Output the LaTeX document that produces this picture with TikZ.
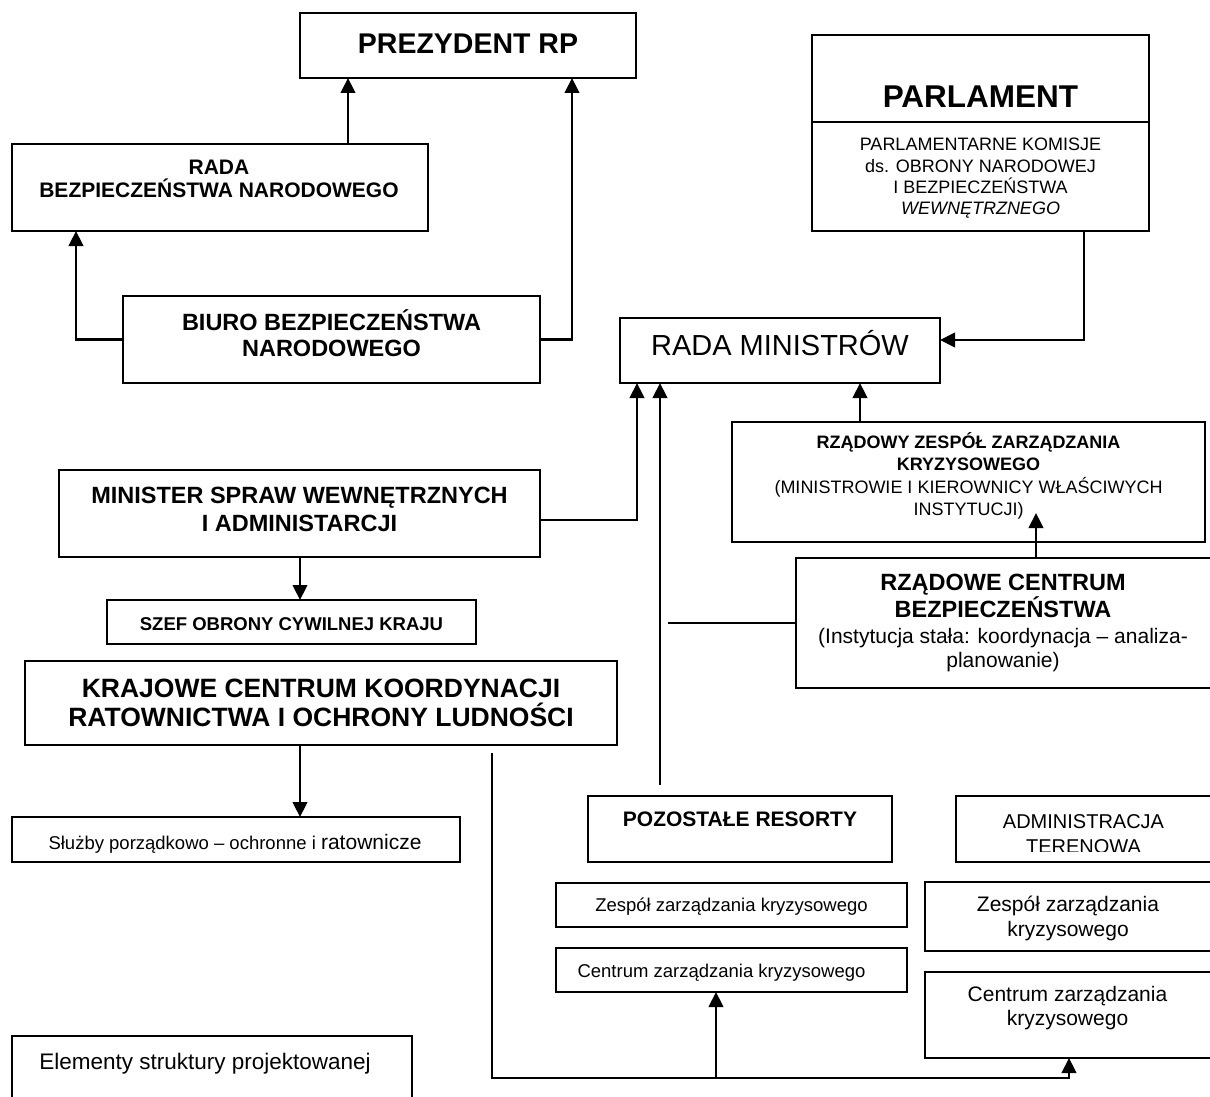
\documentclass[tikz,border=0pt]{standalone}
\usepackage{fontspec}
\setmainfont{Liberation Sans}
\usetikzlibrary{arrows.meta,fit}
\newcommand\fsz[1]{\fontsize{#1}{#1}\selectfont}
\begin{document}
\begin{tikzpicture}[x=1pt,y=-1pt,
  box/.style={draw, line width=1.6pt, inner sep=0pt, outer sep=0pt},
  arr/.style={line width=2.3pt, -{Triangle[length=15pt,width=14.5pt]}},
  ln/.style={line width=1.8pt},
  tx/.style={anchor=base, inner sep=0pt, outer sep=0pt},
  bt/.style={tx, font=\bfseries\fsz{#1}},
  rt/.style={tx, font=\fsz{#1}},
  it/.style={tx, font=\itshape\fsz{#1}}]
\useasboundingbox[fill=white] (0,0) rectangle (1210,1097);

% boxes
\node[box, fit={(300,13) (636,78)}] (pres) {};
\node[box, fit={(12,144) (428,231)}] (rbn) {};
\node[box, fit={(123,296) (540,383)}] (bbn) {};
\node[box, fit={(812,35) (1149,231)}] (parl) {};
\node[box, fit={(620,318) (940,383)}] (rm) {};
\node[box, fit={(732,422) (1205,542)}] (rzzk) {};
\node[box, fit={(796,558) (1218,688)}] (rcb) {};
\node[box, fit={(59,470) (540,557)}] (msw) {};
\node[box, fit={(107,600) (476,644)}] (szef) {};
\node[box, fit={(25,661) (617,745)}] (kck) {};
\node[box, fit={(12,817) (460,862)}] (sluz) {};
\node[box, fit={(12,1036) (412,1110)}] (elem) {};
\node[box, fit={(588,796) (892,862)}] (poz) {};
\node[box, fit={(956,796) (1218,862)}] (adm) {};
\node[box, fit={(556,883) (907,927)}] (zes1) {};
\node[box, fit={(556,948) (907,992)}] (cen1) {};
\node[box, fit={(925,882) (1218,951)}] (zes2) {};
\node[box, fit={(925,972) (1218,1058)}] (cen2) {};
\draw[line width=1.6pt] (parl.west |- 0,122) -- (parl.east |- 0,122);

% texts
\node[bt=28.5] (presT) at (468,53.2) {PREZYDENT RP};
\node[bt=21] (rbnT1) at (219,174.5) {RADA};
\node[bt=21] (rbnT2) at (219,197.5) {BEZPIECZEŃSTWA NARODOWEGO};
\node[bt=23.5] (bbnT1) at (331.5,330.4) {BIURO BEZPIECZEŃSTWA};
\node[bt=23.5] (bbnT2) at (331.5,356.4) {NARODOWEGO};
\node[bt=31.5] (parlT) at (980.5,108) {PARLAMENT};
\node[rt=18] (parlT1) at (980.5,150.4) {PARLAMENTARNE KOMISJE};
\node[rt=18] (parlT2) at (980.5,172.4) {ds. OBRONY NARODOWEJ};
\node[rt=18] (parlT3) at (980.5,193.4) {I BEZPIECZEŃSTWA};
\node[it=18] (parlT4) at (980.5,214.4) {WEWNĘTRZNEGO};
\node[rt=29] (rmT) at (780,355.5) {RADA MINISTRÓW};
\node[bt=18] (rzzkT1) at (968.5,448.5) {RZĄDOWY ZESPÓŁ ZARZĄDZANIA};
\node[bt=18] (rzzkT2) at (968.5,470.5) {KRYZYSOWEGO};
\node[rt=18] (rzzkT3) at (968.5,493) {(MINISTROWIE I KIEROWNICY WŁAŚCIWYCH};
\node[rt=18] (rzzkT4) at (968.5,515) {INSTYTUCJI)};
\node[bt=23.5] (rcbT1) at (1003,590) {RZĄDOWE CENTRUM};
\node[bt=23.5] (rcbT2) at (1003,617.5) {BEZPIECZEŃSTWA};
\node[rt=21] (rcbT3) at (1003,643.5) {(Instytucja stała: koordynacja – analiza-};
\node[rt=21] (rcbT4) at (1003,667) {planowanie)};
\node[bt=23.5] (mswT1) at (299.5,503.5) {MINISTER SPRAW WEWNĘTRZNYCH};
\node[bt=23.5] (mswT2) at (299.5,531.7) {I ADMINISTARCJI};
\node[bt=18.5] (szefT) at (291.5,630) {SZEF OBRONY CYWILNEJ KRAJU};
\node[bt=26.5] (kckT1) at (321,697) {KRAJOWE CENTRUM KOORDYNACJI};
\node[bt=26.5] (kckT2) at (321,726.5) {RATOWNICTWA I OCHRONY LUDNOŚCI};
\node[rt=18.5] (sluzT) at (235,849) {Służby porządkowo – ochronne i {\fsz{21}ratownicze}};
\node[rt=22.5] (elemT) at (205,1069) {Elementy struktury projektowanej};
\node[bt=21] (pozT) at (740,826.7) {POZOSTAŁE RESORTY};
\begin{scope}
  \clip (950,790) rectangle (1215,851.5);
  \node[rt=20] (admT1) at (1083.5,828) {ADMINISTRACJA};
  \node[rt=20] (admT2) at (1083.5,853) {TERENOWA};
\end{scope}
\node[rt=18.5] (zes1T) at (731.5,911.5) {Zespół zarządzania kryzysowego};
\node[rt=18.5] (cen1T) at (721.5,977) {Centrum zarządzania kryzysowego};
\node[rt=21] (zes2T1) at (1068,911.5) {Zespół zarządzania};
\node[rt=21] (zes2T2) at (1068,936.7) {kryzysowego};
\node[rt=21] (cen2T1) at (1067.5,1001.7) {Centrum zarządzania};
\node[rt=21] (cen2T2) at (1067.5,1025.5) {kryzysowego};

% connectors
\draw[arr] (rbn.north -| 348,0) -- (pres.south -| 348,0);
\draw[arr] (bbn.west) -| (rbn.south -| 76,0);
\draw[arr] (bbn.east) -| (pres.south -| 572,0);
\draw[arr] (parl.south -| 1084,0) |- (rm.east |- 0,340);
\draw[arr] (msw.east |- 0,520) -| (rm.south -| 637,0);
\coordinate (pozTop) at (660,785);
\draw[arr] (pozTop) -- (rm.south -| pozTop);
\draw[arr] (rzzk.north -| 860,0) -- (rm.south -| 860,0);
\coordinate (rcbTip) at (1036,513);
\draw[arr] (rcb.north -| rcbTip) -- (rcbTip);
\coordinate (rcbEnd) at (668,623);
\draw[ln] (rcb.west |- rcbEnd) -- (rcbEnd);
\draw[arr] (msw.south -| 300,0) -- (szef.north -| 300,0);
\draw[arr] (kck.south -| 300,0) -- (sluz.north -| 300,0);
\coordinate (kckEnd) at (492,753);
\coordinate (botL) at (492,1078);
\draw[arr] (kckEnd) -- (botL) -| (cen2.south -| 1069,0);
\draw[arr] (botL -| 716,0) -- (cen1.south -| 716,0);
\end{tikzpicture}
\end{document}
